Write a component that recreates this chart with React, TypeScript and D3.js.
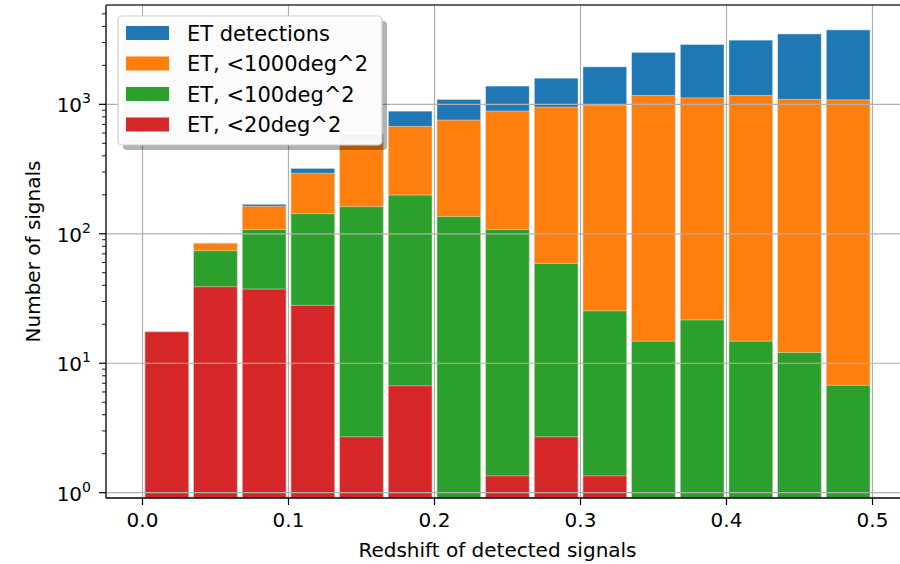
import React, { useEffect, useRef } from 'react';
import * as d3 from 'd3';

// bin lower edges (redshift), bins are 1/30 wide
const binLo = [0.0, 0.0333, 0.0667, 0.1, 0.1333, 0.1667, 0.2, 0.2333, 0.2667, 0.3, 0.3333, 0.3667, 0.4, 0.4333, 0.4667];
const binWidth = 0.0333;

const detections = [17.5, 85, 169, 320, 590, 886, 1092, 1383, 1592, 1950, 2518, 2900, 3132, 3500, 3760];
const lt1000 = [17.5, 84, 163, 293, 520, 675, 755, 886, 951, 986, 1172, 1122, 1172, 1092, 1083];
const lt100 = [17.5, 74, 108, 143, 162, 199, 136, 108, 59, 25.4, 14.8, 21.6, 14.8, 12.1, 6.75];
const lt20 = [17.5, 39, 37.4, 28, 2.7, 6.7, 0, 1.35, 2.7, 1.35, 0, 0, 0, 0, 0];

const seriesNames = ['ET detections', 'ET, <1000deg^2', 'ET, <100deg^2', 'ET, <20deg^2'];
const seriesColors = ['#1f77b4', '#ff7f0e', '#2ca02c', '#d62728'];

const xTicks = [0.0, 0.1, 0.2, 0.3, 0.4, 0.5];
const yTicks = [1, 10, 100, 1000];
const yTickExp = ['0', '1', '2', '3'];

export default function App() {
  const ref = useRef<SVGSVGElement>(null);

  useEffect(() => {
    const width = 900;
    const height = 564;
    const margin = { top: 5, right: -9, bottom: 66, left: 106 };
    const font = 'DejaVu Sans, sans-serif';

    const svg = d3.select(ref.current);
    svg.selectAll('*').remove();

    const x = d3.scaleLinear()
      .domain([-0.025, 0.525])
      .range([margin.left, width - margin.right]);

    const y = d3.scaleLog()
      .domain([0.91, 5850])
      .range([height - margin.bottom, margin.top]);

    const bottom = height - margin.bottom;

    svg.append('rect').attr('width', width).attr('height', height).attr('fill', '#fff');

    // bars, drawn one series over the other
    const series = [detections, lt1000, lt100, lt20];
    const rw = 0.9;
    series.forEach((vals, si) => {
      svg.append('g')
        .selectAll('rect')
        .data(vals.map((v, i) => ({ v, lo: binLo[i] })).filter(d => d.v > 0))
        .join('rect')
          .attr('x', d => x(d.lo + binWidth * (1 - rw) / 2))
          .attr('width', x(binWidth * rw) - x(0))
          .attr('y', d => y(d.v))
          .attr('height', d => bottom - y(d.v))
          .attr('fill', seriesColors[si])
          .attr('stroke', 'rgba(255,255,255,0.45)')
          .attr('stroke-width', 1);
    });

    // grid sits above the bars
    const grid = svg.append('g').attr('stroke', '#b0b0b0').attr('stroke-width', 1.2);
    xTicks.forEach(t => {
      grid.append('line').attr('x1', x(t)).attr('x2', x(t)).attr('y1', margin.top).attr('y2', bottom);
    });
    yTicks.forEach(t => {
      grid.append('line').attr('x1', margin.left).attr('x2', width).attr('y1', y(t)).attr('y2', y(t));
    });

    // spines
    const sp = svg.append('g').attr('stroke', '#000').attr('stroke-width', 1.3).attr('fill', 'none');
    sp.append('line').attr('x1', margin.left).attr('x2', margin.left).attr('y1', margin.top).attr('y2', bottom);
    sp.append('line').attr('x1', margin.left).attr('x2', width).attr('y1', bottom).attr('y2', bottom);
    sp.append('line').attr('x1', margin.left).attr('x2', width).attr('y1', margin.top).attr('y2', margin.top).attr('stroke', '#333');

    // x ticks
    const xg = svg.append('g');
    xTicks.forEach(t => {
      xg.append('line').attr('x1', x(t)).attr('x2', x(t)).attr('y1', bottom).attr('y2', bottom + 7)
        .attr('stroke', '#000').attr('stroke-width', 1.2);
      xg.append('text').attr('x', x(t)).attr('y', bottom + 29)
        .attr('text-anchor', 'middle').attr('font-family', font).attr('font-size', 20)
        .attr('fill', '#000').text(d3.format('.1f')(t));
    });
    svg.append('text').attr('x', (margin.left + 909) / 2 - 10).attr('y', 557)
      .attr('text-anchor', 'middle').attr('font-family', font).attr('font-size', 20)
      .text('Redshift of detected signals');

    // y ticks
    const yg = svg.append('g');
    const minor: number[] = [];
    [1, 10, 100, 1000].forEach(dec => {
      [2, 3, 4, 5, 6, 7, 8, 9].forEach(m => { if (dec * m < 5850) minor.push(dec * m); });
    });
    minor.forEach(t => {
      yg.append('line').attr('x1', margin.left - 4).attr('x2', margin.left).attr('y1', y(t)).attr('y2', y(t))
        .attr('stroke', '#000').attr('stroke-width', 0.9);
    });
    yTicks.forEach((t, i) => {
      yg.append('line').attr('x1', margin.left - 7).attr('x2', margin.left).attr('y1', y(t)).attr('y2', y(t))
        .attr('stroke', '#000').attr('stroke-width', 1.2);
      const tx = yg.append('text').attr('x', 91).attr('y', y(t) + 8)
        .attr('text-anchor', 'end').attr('font-family', font).attr('font-size', 20).attr('fill', '#000');
      tx.append('tspan').text('10');
      tx.append('tspan').attr('font-size', 14).attr('dy', -9).text(yTickExp[i]);
    });
    svg.append('text')
      .attr('transform', `translate(40,${(margin.top + bottom) / 2}) rotate(-90)`)
      .attr('text-anchor', 'middle').attr('font-family', font).attr('font-size', 20)
      .text('Number of signals');

    // legend
    const lg = svg.append('g');
    lg.append('rect').attr('x', 123).attr('y', 21).attr('width', 264).attr('height', 129).attr('rx', 4)
      .attr('fill', '#000').attr('opacity', 0.3);
    lg.append('rect').attr('x', 118).attr('y', 16).attr('width', 264).attr('height', 129).attr('rx', 4)
      .attr('fill', '#fff').attr('fill-opacity', 0.95).attr('stroke', '#cccccc').attr('stroke-width', 1.2);
    seriesNames.forEach((name, i) => {
      const cy = 33 + i * 30.5;
      lg.append('rect').attr('x', 126).attr('y', cy - 7).attr('width', 43).attr('height', 14)
        .attr('fill', seriesColors[i]);
      lg.append('text').attr('x', 187).attr('y', cy).attr('dy', '0.36em')
        .attr('font-family', font).attr('font-size', 21).attr('fill', '#000').text(name);
    });
  }, []);

  return (
    <svg ref={ref} width={900} height={564} style={{ position: 'absolute', left: 0, top: 0 }}></svg>
  );
}
